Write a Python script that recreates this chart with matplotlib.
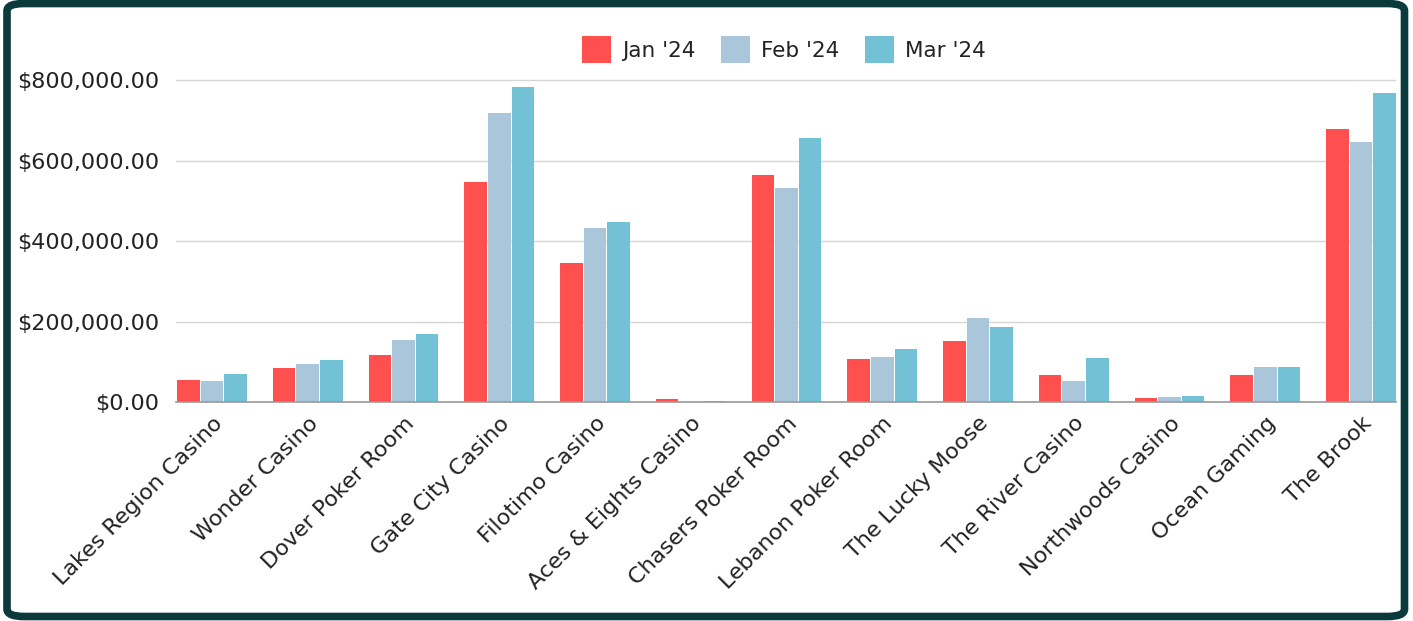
import matplotlib
matplotlib.use("Agg")
import matplotlib.pyplot as plt
import numpy as np
from matplotlib.patches import FancyBboxPatch
from matplotlib.ticker import FuncFormatter

categories = ["Lakes Region Casino", "Wonder Casino", "Dover Poker Room", "Gate City Casino",
              "Filotimo Casino", "Aces & Eights Casino", "Chasers Poker Room", "Lebanon Poker Room",
              "The Lucky Moose", "The River Casino", "Northwoods Casino", "Ocean Gaming", "The Brook"]
jan = [55000, 85000, 117000, 547000, 345000, 8000, 564000, 107000, 152000, 67000, 9000, 67000, 678000]
feb = [52000, 95000, 154000, 718000, 432000, 1000, 532000, 112000, 209000, 53000, 13000, 87000, 646000]
mar = [70000, 104000, 169000, 783000, 447000, 2000, 656000, 132000, 186000, 109000, 15000, 87000, 768000]
series_names = ["Jan '24", "Feb '24", "Mar '24"]
colors = ["#ff4f4f", "#aac6db", "#72c1d5"]

plt.rcParams['font.family'] = ['DejaVu Sans']

W, H = 1413, 621
fig = plt.figure(figsize=(W / 100, H / 100), dpi=100)
fig.patch.set_facecolor("white")

ax_left, ax_right = 176, 1396
ax = fig.add_axes([ax_left / W, 1 - 402 / H, (ax_right - ax_left) / W, (402 - 60) / H])
x = np.arange(len(categories))
bw = 0.235
gap = 0.012
for i, (vals, name, c) in enumerate(zip([jan, feb, mar], series_names, colors)):
    ax.bar(x + (i - 1) * (bw + gap), vals, bw, color=c, label=name, zorder=3)

unit = 95.75
c0 = 212
ax.set_xlim((ax_left - c0) / unit, (ax_right - c0) / unit)
ax.set_ylim(0, 850000)
ax.set_yticks([0, 200000, 400000, 600000, 800000])
ax.yaxis.set_major_formatter(FuncFormatter(lambda v, p: "$" + format(v, ",.2f")))
ax.grid(axis='y', color="#d6d6d6", linewidth=1, zorder=0)
for s in ["top", "right", "left"]:
    ax.spines[s].set_visible(False)
ax.spines["bottom"].set_color("#999999")
ax.spines["bottom"].set_linewidth(1.2)
ax.spines["bottom"].set_zorder(4)
ax.tick_params(axis='y', length=0, pad=12, labelsize=16, labelcolor="#222222")
ax.tick_params(axis='x', length=0, pad=8)
ax.set_xticks(x)
ax.set_xticklabels(categories, rotation=45, ha='right', va='top', rotation_mode='anchor',
                   fontsize=16, color="#222222")

leg = ax.legend(loc='upper center', ncol=3, frameon=False, fontsize=15.5,
                handlelength=1.35, handleheight=1.5, handletextpad=0.5, columnspacing=1.2,
                labelcolor="#222222")
leg.set_bbox_to_anchor((784 / W, 1 - 17 / H), transform=fig.transFigure)

border = FancyBboxPatch((7 / W, 4.5 / H), (1404.5 - 7) / W, (617.5 - 4.5) / H,
                        boxstyle="round,pad=0,rounding_size=0.012",
                        transform=fig.transFigure, fill=False, edgecolor="#0b3a3c",
                        linewidth=5.5, zorder=10)
fig.patches.append(border)

fig.savefig("out.png", dpi=100, facecolor="white")
